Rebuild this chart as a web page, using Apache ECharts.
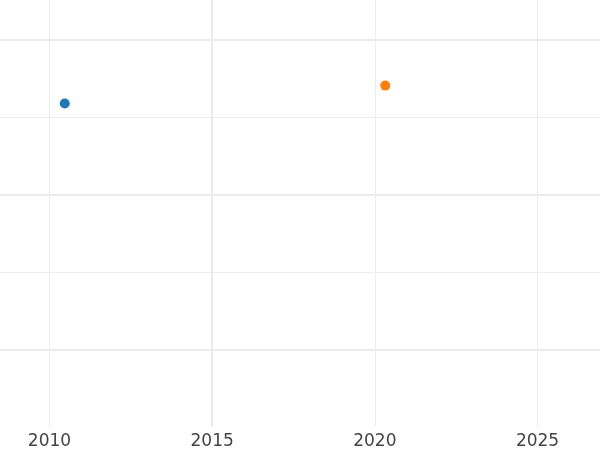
<!DOCTYPE html>
<html>
<head>
<meta charset="utf-8">
<script src="https://cdn.jsdelivr.net/npm/echarts@6/dist/echarts.min.js"></script>
<style>
html,body{margin:0;padding:0;background:#fff;}
#chart{width:600px;height:450px;}
</style>
</head>
<body>
<div id="chart"></div>
<script>
// Data
const seriesA = [[2010.47, 4.18]];   // blue point
const seriesB = [[2020.32, 4.41]];   // orange point
const majorY = [1, 3, 5];            // heavier horizontal grid lines
const majorX = [2015];               // heavier vertical grid line
const xMin = 2008.48, xMax = 2026.92;
const yMin = 0, yMax = 5.516;

const gridColor = '#ededed';
const majorColor = '#ebebeb';

const chart = echarts.init(document.getElementById('chart'));
const majorLines = majorY.map(v => ({ yAxis: v }))
  .concat(majorX.map(v => ({ xAxis: v })));

chart.setOption({
  animation: false,
  backgroundColor: '#ffffff',
  grid: { left: 0, right: 0, top: 0, bottom: 22.5, containLabel: false },
  xAxis: {
    type: 'value',
    min: xMin, max: xMax,
    splitNumber: 4,
    axisLine: { show: false },
    axisTick: { show: false },
    axisLabel: {
      showMinLabel: false, showMaxLabel: false,
      color: '#444444', fontFamily: 'DejaVu Sans', fontSize: 17, margin: 6,
      formatter: v => String(Math.round(v))
    },
    splitLine: { show: true, showMinLine: false, showMaxLine: false,
      lineStyle: { color: gridColor, width: 1 } }
  },
  yAxis: {
    type: 'value',
    min: yMin, max: yMax, interval: 1,
    axisLine: { show: false },
    axisTick: { show: false },
    axisLabel: { show: false },
    splitLine: { show: true, showMinLine: false, showMaxLine: false,
      lineStyle: { color: gridColor, width: 1 } }
  },
  series: [
    {
      type: 'scatter', data: seriesA, symbolSize: 10,
      itemStyle: { color: '#1f77b4', opacity: 1 },
      z: 3,
      markLine: {
        silent: true, symbol: 'none', label: { show: false },
        lineStyle: { color: majorColor, width: 2, type: 'solid' },
        emphasis: { disabled: true },
        data: majorLines, z: 1
      }
    },
    {
      type: 'scatter', data: seriesB, symbolSize: 10,
      itemStyle: { color: '#ff7f0e', opacity: 1 },
      z: 3
    }
  ]
});
</script>
</body>
</html>
